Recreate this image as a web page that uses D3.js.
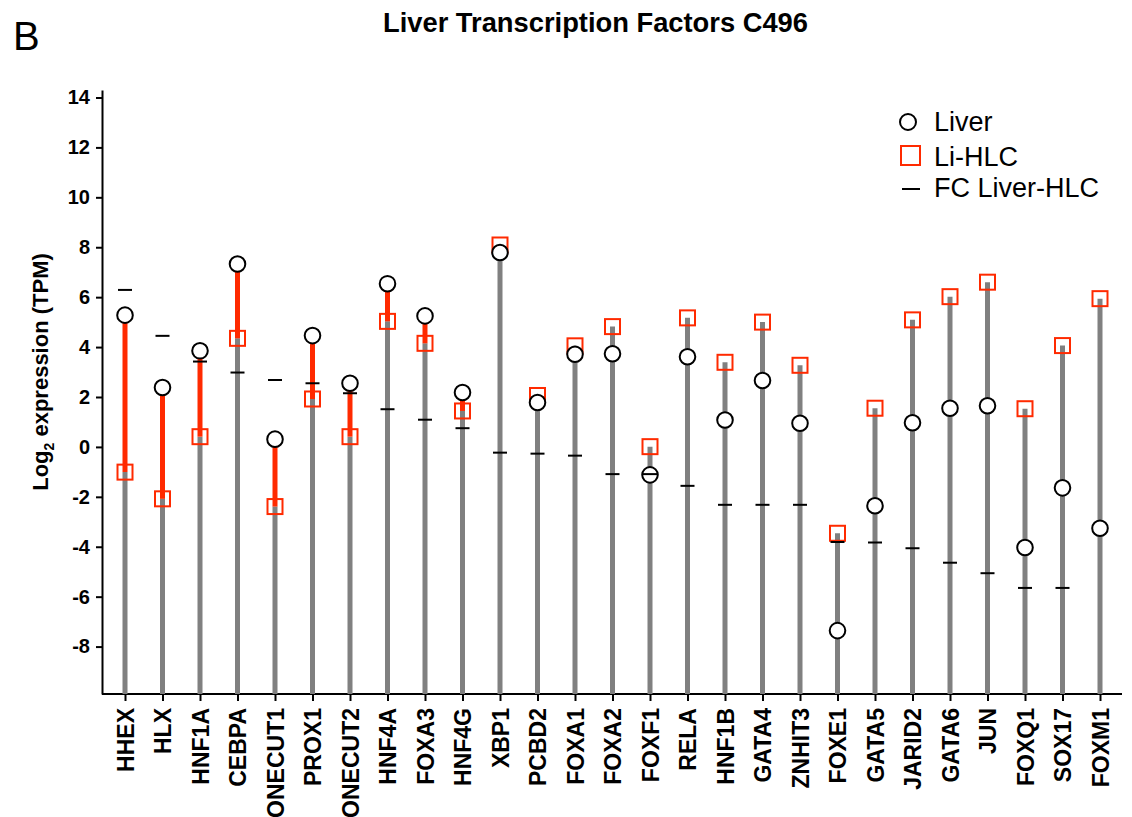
<!DOCTYPE html>
<html>
<head>
<meta charset="utf-8">
<script src="https://d3js.org/d3.v7.min.js"></script>
<style>
  body { margin: 0; background: #fff; }
  text { font-family: "Liberation Sans", Arial, sans-serif; }
</style>
</head>
<body>
<div id="graph"></div>
<script>
// gene names along the x axis
var genes = ["HHEX", "HLX", "HNF1A", "CEBPA", "ONECUT1", "PROX1", "ONECUT2", "HNF4A",
  "FOXA3", "HNF4G", "XBP1", "PCBD2", "FOXA1", "FOXA2", "FOXF1", "RELA", "HNF1B",
  "GATA4", "ZNHIT3", "FOXE1", "GATA5", "JARID2", "GATA6", "JUN", "FOXQ1", "SOX17", "FOXM1"];

// log2 TPM in liver (circles)
var liver = [5.28, 2.38, 3.85, 7.33, 0.31, 4.46, 2.55, 6.54, 5.25, 2.18, 7.79, 1.78, 3.71,
  3.73, -1.12, 3.61, 1.08, 2.66, 0.95, -7.36, -2.36, 0.97, 1.55, 1.65, -4.03, -1.64, -3.26];

// log2 TPM in Li-HLC (squares)
var hlc = [-1.01, -2.08, 0.41, 4.35, -2.39, 1.92, 0.41, 5.03, 4.15, 1.44, 8.09, 2.06, 4.05,
  4.82, 0.01, 5.17, 3.39, 5.0, 3.27, -3.46, 1.55, 5.09, 6.02, 6.6, 1.53, 4.06, 5.94];

// fold change liver vs HLC (dashes), none shown for FOXM1
var fc = [6.29, 4.45, 3.42, 2.98, 2.68, 2.55, 2.15, 1.51, 1.09, 0.75, -0.23, -0.27, -0.35,
  -1.09, -1.09, -1.56, -2.32, -2.32, -2.32, -3.81, -3.83, -4.06, -4.64, -5.06, -5.65, -5.65, null];

var yTicks = [-8, -6, -4, -2, 0, 2, 4, 6, 8, 10, 12, 14];

var red = "#ff2a00", grey = "#808080";
var W = 1132, H = 817;
var yMin = -9.9, yMax = 14.3;

var svg = d3.select("#graph").append("svg")
  .attr("width", W)
  .attr("height", H);

var x = d3.scalePoint().domain(genes).range([125, 1100]);
var y = d3.scaleLinear().domain([yMin, yMax]).range([694, 90]);

var data = genes.map(function(g, i) {
  return { gene: g, liver: liver[i], hlc: hlc[i], fc: fc[i] };
});

// panel letter + title
svg.append("text").attr("x", 13).attr("y", 50)
  .style("font-size", "40px").text("B");
svg.append("text").attr("x", 383).attr("y", 32)
  .attr("textLength", 425).attr("lengthAdjust", "spacingAndGlyphs")
  .style("font-weight", "bold").style("font-size", "28px")
  .text("Liver Transcription Factors C496");

// axes
var yAxis = svg.append("g")
  .attr("transform", "translate(102,0)")
  .call(d3.axisLeft(y).tickValues(yTicks).tickSize(6).tickSizeOuter(0).tickPadding(6)
    .tickFormat(function(d) { return String(d); }));
yAxis.selectAll("text")
  .style("font-family", "'Liberation Sans', Arial, sans-serif")
  .style("font-size", "20px").style("font-weight", "bold");

var xAxis = svg.append("g")
  .attr("transform", "translate(0,694)")
  .call(d3.axisBottom(x).tickSize(7).tickSizeOuter(0));
xAxis.select(".domain").attr("d", "M102,0H1122");
xAxis.selectAll("text")
  .attr("transform", "rotate(-90)")
  .attr("text-anchor", "end")
  .attr("x", -14).attr("y", 0).attr("dy", "0.36em")
  .style("font-family", "'Liberation Sans', Arial, sans-serif")
  .style("font-size", "23px").style("font-weight", "bold");
svg.selectAll(".domain, .tick line").attr("stroke", "#000").attr("stroke-width", 2);

// y label
var ylab = svg.append("text")
  .attr("transform", "translate(48,372) rotate(-90)")
  .attr("text-anchor", "middle")
  .style("font-size", "22px").style("font-weight", "bold");
ylab.append("tspan").text("Log");
ylab.append("tspan").attr("dy", 6).style("font-size", "14px").text("2");
ylab.append("tspan").attr("dy", -6).text(" expression (TPM)");

// grey stems up to HLC
svg.selectAll(".stem").data(data).enter().append("line")
  .attr("class", "stem")
  .attr("x1", function(d) { return x(d.gene); })
  .attr("x2", function(d) { return x(d.gene); })
  .attr("y1", y(yMin))
  .attr("y2", function(d) { return y(d.hlc); })
  .attr("stroke", grey).attr("stroke-width", 5);

// red gap where liver is above HLC
svg.selectAll(".gap").data(data.filter(function(d) { return d.liver > d.hlc; }))
  .enter().append("line")
  .attr("class", "gap")
  .attr("x1", function(d) { return x(d.gene); })
  .attr("x2", function(d) { return x(d.gene); })
  .attr("y1", function(d) { return y(d.hlc); })
  .attr("y2", function(d) { return y(d.liver); })
  .attr("stroke", red).attr("stroke-width", 5);

// HLC squares
svg.selectAll(".sq").data(data).enter().append("rect")
  .attr("class", "sq")
  .attr("x", function(d) { return x(d.gene) - 7.5; })
  .attr("y", function(d) { return y(d.hlc) - 7.5; })
  .attr("width", 15).attr("height", 15)
  .attr("fill", "none").attr("stroke", red).attr("stroke-width", 2);

// liver circles
svg.selectAll(".liv").data(data).enter().append("circle")
  .attr("class", "liv")
  .attr("cx", function(d) { return x(d.gene); })
  .attr("cy", function(d) { return y(d.liver); })
  .attr("r", 7.8)
  .attr("fill", "#fff").attr("stroke", "#000").attr("stroke-width", 2);

// FC dashes
svg.selectAll(".fc").data(data.filter(function(d) { return d.fc != null; }))
  .enter().append("line")
  .attr("class", "fc")
  .attr("x1", function(d) { return x(d.gene) - 7; })
  .attr("x2", function(d) { return x(d.gene) + 7; })
  .attr("y1", function(d) { return y(d.fc); })
  .attr("y2", function(d) { return y(d.fc); })
  .attr("stroke", "#000").attr("stroke-width", 2);

// legend
var lg = svg.append("g");
lg.append("circle").attr("cx", 908).attr("cy", 122).attr("r", 8)
  .attr("fill", "none").attr("stroke", "#000").attr("stroke-width", 2);
lg.append("rect").attr("x", 901).attr("y", 146).attr("width", 19).attr("height", 19)
  .attr("fill", "none").attr("stroke", red).attr("stroke-width", 2);
lg.append("line").attr("x1", 902).attr("x2", 920).attr("y1", 189).attr("y2", 189)
  .attr("stroke", "#000").attr("stroke-width", 2);
[["Liver", 131], ["Li-HLC", 166], ["FC Liver-HLC", 197]].forEach(function(r) {
  lg.append("text").attr("x", 934).attr("y", r[1])
    .style("font-size", "27px").text(r[0]);
});
</script>
</body>
</html>
